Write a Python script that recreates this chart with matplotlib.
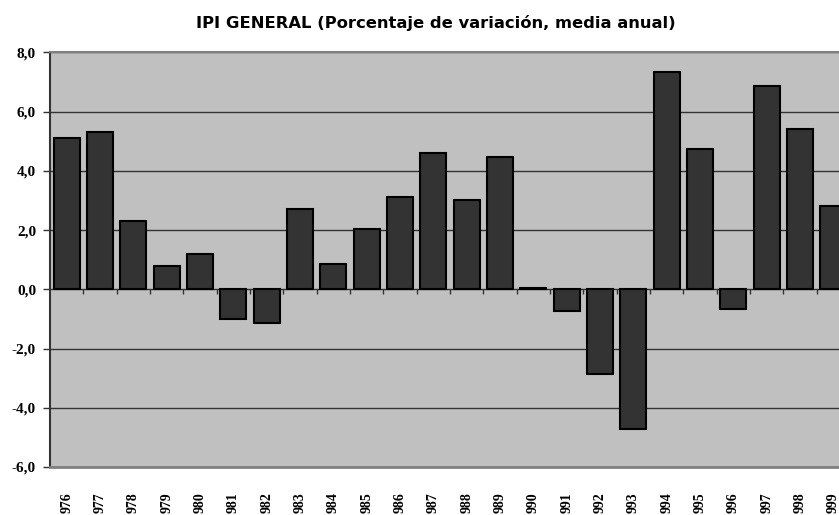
import numpy as np
import matplotlib
matplotlib.use("Agg")
import matplotlib.pyplot as plt

years = list(range(1976, 2000))
year_labels = [str(y)[1:] for y in years]
ipi_change = [5.1, 5.3, 2.3, 0.8, 1.2, -1.0, -1.15, 2.7, 0.85, 2.05,
              3.1, 4.6, 3.0, 4.45, 0.05, -0.75, -2.85, -4.73, 7.33, 4.72,
              -0.68, 6.87, 5.4, 2.8]
y_ticks = [-6, -4, -2, 0, 2, 4, 6, 8]
y_tick_labels = ["-6,0", "-4,0", "-2,0", "0,0", "2,0", "4,0", "6,0", "8,0"]


def main():
    fig = plt.figure(figsize=(8.39, 5.15), dpi=100)
    ax = fig.add_axes([50 / 839, 48 / 515, 800 / 839, 414.7 / 515])
    ax.set_facecolor("#c0c0c0")

    x = np.arange(len(years))
    ax.bar(x, ipi_change, width=0.78, color="#333333", edgecolor="black",
           linewidth=1.5, zorder=3)

    # horizontal grid lines
    ax.set_ylim(-6, 8)
    ax.set_yticks(y_ticks)
    ax.set_yticklabels(y_tick_labels, family="Liberation Serif",
                       fontweight="bold", fontsize=11)
    ax.yaxis.grid(True, color="#333333", linewidth=1, zorder=1)
    ax.tick_params(axis="y", length=5, width=1, color="#333333", pad=5)

    # category labels below the plot
    ax.set_xlim(-0.5, len(years) - 0.5)
    ax.set_xticks(x)
    ax.set_xticklabels(year_labels, rotation=90, family="Liberation Serif",
                       fontweight="bold", fontsize=10)
    ax.tick_params(axis="x", length=0, pad=18)

    # small category-boundary ticks on the zero line
    ax.vlines(np.arange(1, len(years)) - 0.5, -0.15, 0, color="#333333",
              linewidth=1, zorder=2)

    ax.spines["top"].set_color("#808080")
    ax.spines["top"].set_linewidth(1.5)
    ax.spines["bottom"].set_color("#808080")
    ax.spines["bottom"].set_linewidth(2)
    ax.spines["left"].set_color("#333333")
    ax.spines["left"].set_linewidth(1.5)
    ax.spines["right"].set_visible(False)

    fig.text(436 / 839, 1 - 23 / 515,
             "IPI GENERAL (Porcentaje de variación, media anual)",
             ha="center", va="center", family="DejaVu Sans",
             fontweight="bold", fontstretch="normal", fontsize=11.8)

    fig.savefig("out.png", dpi=100)


if __name__ == "__main__":
    main()
